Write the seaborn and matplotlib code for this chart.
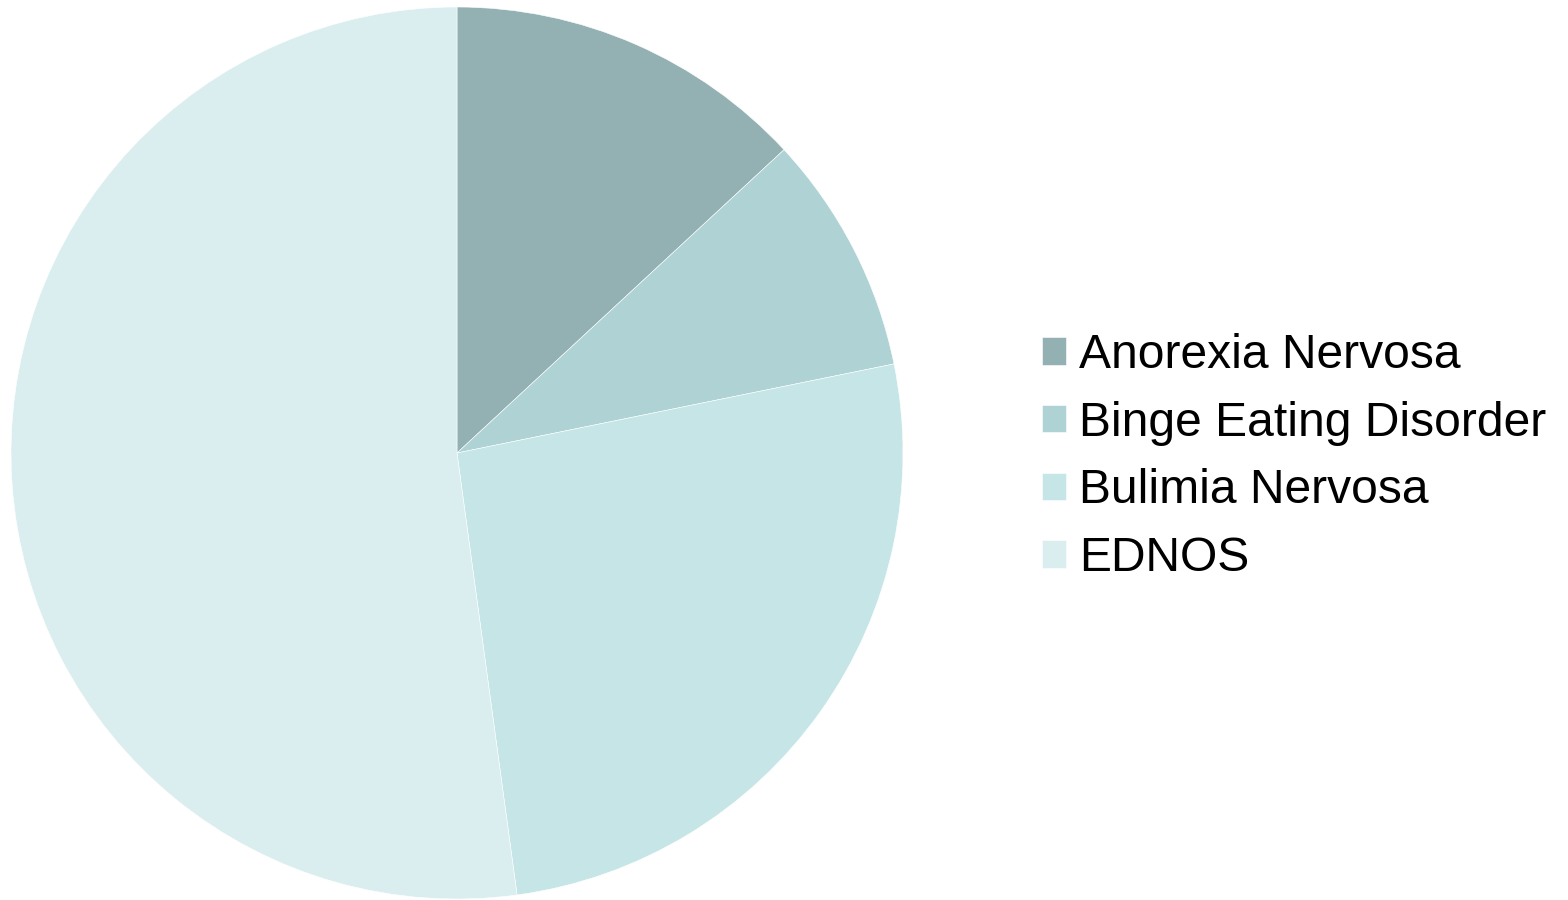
import matplotlib
matplotlib.use("Agg")
import matplotlib.pyplot as plt
import seaborn as sns


# =========================================
# Data
# =========================================

categories = [
    "Anorexia Nervosa",
    "Binge Eating Disorder",
    "Bulimia Nervosa",
    "EDNOS"
]

shares = [13.1, 8.7, 26.05, 52.15]

colors = ["#93B1B3", "#AFD2D4", "#C5E5E6", "#DAEDEF"]


# =========================================
# Theme
# =========================================

sns.set_theme(style="white")
plt.rcParams["font.family"] = ["Liberation Sans", "DejaVu Sans"]
plt.rcParams["text.color"] = "black"


# =========================================
# Pie
# =========================================

W, H = 1568, 900
fig = plt.figure(figsize=(W / 100, H / 100), dpi=100)

cx, cy, r = 457, 453, 446
ax = fig.add_axes([
    (cx - r) / W,
    (H - cy - r) / H,
    2 * r / W,
    2 * r / H
])

wedges, _ = ax.pie(
    shares,
    colors=colors,
    startangle=90,
    counterclock=False,
    radius=1,
    wedgeprops={"edgecolor": "white", "linewidth": 0.4}
)

ax.set_xlim(-1, 1)
ax.set_ylim(-1, 1)
ax.set_aspect("equal")
ax.axis("off")

leg = fig.legend(
    wedges,
    categories,
    loc="center left",
    bbox_to_anchor=(1042 / W, 1 - 457 / H),
    frameon=False,
    fontsize=34.6,
    handlelength=0.5,
    handleheight=0.5,
    handletextpad=0.28,
    labelspacing=0.47,
    borderpad=0,
    borderaxespad=0
)

for t in leg.get_texts():
    t.set_color("black")

fig.savefig("out.png", dpi=100)
